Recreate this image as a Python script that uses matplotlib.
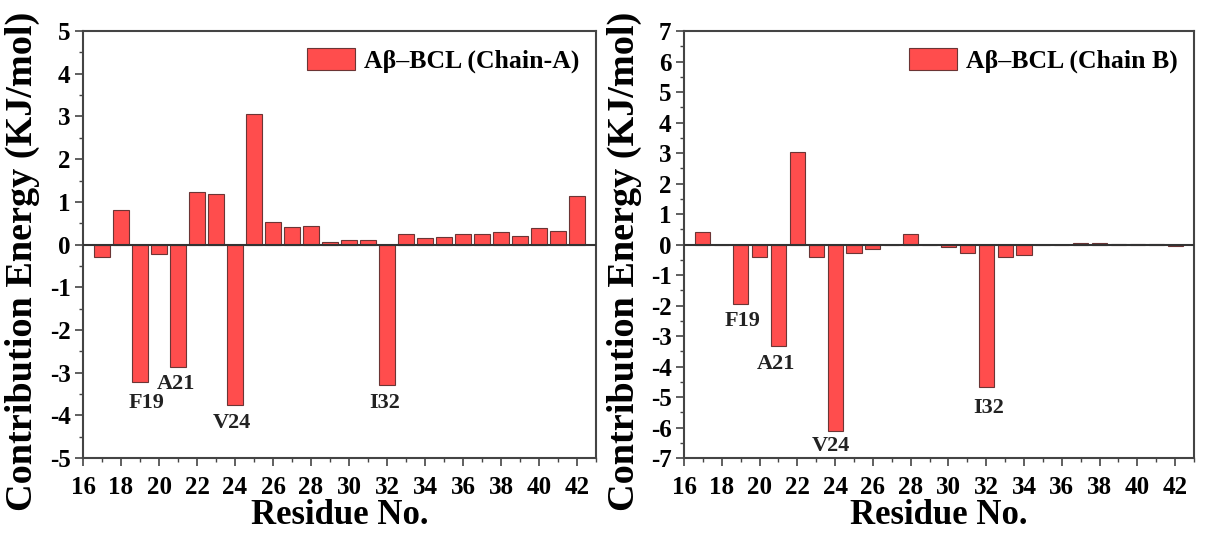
import matplotlib
matplotlib.use("Agg")
import matplotlib.pyplot as plt
from matplotlib.ticker import MultipleLocator
import numpy as np

plt.rcParams['font.family'] = ['Liberation Serif', 'DejaVu Serif']
plt.rcParams['font.weight'] = 'bold'
plt.rcParams['axes.unicode_minus'] = False

residues = list(range(17, 43))

energy_chain_a = [-0.29, 0.81, -3.23, -0.23, -2.88, 1.22, 1.19, -3.76, 3.05, 0.53,
                  0.42, 0.43, 0.06, 0.10, 0.10, -3.28, 0.25, 0.16, 0.17, 0.24,
                  0.24, 0.30, 0.20, 0.39, 0.31, 1.13]

energy_chain_b = [0.40, -0.03, -1.95, -0.40, -3.33, 3.04, -0.40, -6.10, -0.27, -0.13,
                  -0.02, 0.35, 0.00, -0.07, -0.27, -4.67, -0.40, -0.35, -0.02, -0.03,
                  0.04, 0.04, 0.01, 0.01, 0.01, -0.06]

hot_labels = ["F19", "A21", "V24", "I32"]
hot_residues = [19, 21, 24, 32]

legend_a = "Aβ–BCL (Chain-A)"
legend_b = "Aβ–BCL (Chain B)"

xticks = list(range(16, 43, 2))

fig = plt.figure(figsize=(12.09, 5.33), dpi=100)
ax1 = fig.add_axes([0.0687, 0.1407, 0.4243, 0.801])
ax2 = fig.add_axes([0.5658, 0.1407, 0.4218, 0.801])

bar_color = '#FF4D4D'
edge_color = '#6b3535'

def style(ax, ylim, label_pos):
    ax.set_xlim(16, 43)
    ax.set_ylim(-ylim, ylim)
    ax.set_xticks(xticks)
    ax.xaxis.set_minor_locator(MultipleLocator(1))
    ax.yaxis.set_major_locator(MultipleLocator(1))
    ax.yaxis.set_minor_locator(MultipleLocator(0.5))
    ax.tick_params(axis='both', which='major', direction='out', length=6, width=1.2,
                   labelsize=18, color='#444444', pad=3)
    ax.tick_params(axis='both', which='minor', direction='out', length=3, width=1.0,
                   color='#444444')
    ax.tick_params(axis='x', pad=7)
    for lab in ax.get_xticklabels() + ax.get_yticklabels():
        lab.set_fontweight('bold')
    for sp in ax.spines.values():
        sp.set_linewidth(1.5)
        sp.set_color('#444444')
    ax.axhline(0, color='#333333', lw=1.5, zorder=3)
    ax.set_xlabel("Residue No.", fontsize=25, fontweight='bold', labelpad=0)
    ax.set_ylabel("Contribution Energy (KJ/mol)", fontsize=27.5, fontweight='bold')
    ax.yaxis.set_label_coords(-0.083, 0.46)
    ax.legend(loc='upper right', frameon=False,
              handlelength=1.85, handleheight=0.95, handletextpad=0.35,
              borderaxespad=0.25, prop={'weight': 'bold', 'size': 18.5})
    for (lab, res), (dx, dy) in zip(zip(hot_labels, hot_residues), label_pos):
        ax.text(res + dx, dy, lab, fontsize=16, fontweight='bold',
                ha='center', va='center', color='#222222')

ax1.bar(residues, energy_chain_a, width=0.8, color=bar_color, edgecolor=edge_color,
        linewidth=0.8, label=legend_a, zorder=2)
style(ax1, 5, [(0.35, -3.7), (-0.1, -3.26), (-0.15, -4.18), (-0.1, -3.7)])

ax2.bar(residues, energy_chain_b, width=0.8, color=bar_color, edgecolor=edge_color,
        linewidth=0.8, label=legend_b, zorder=2)
style(ax2, 7, [(0.1, -2.52), (-0.13, -3.93), (-0.2, -6.6), (0.15, -5.35)])

fig.savefig("out.png", dpi=100)
